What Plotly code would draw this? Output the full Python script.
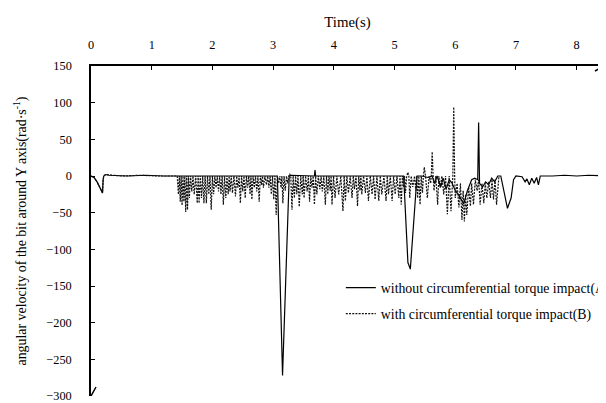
import plotly.graph_objects as go

# ---- data ----
x_ticks = [0, 1, 2, 3, 4, 5, 6, 7, 8]
y_ticks = [-300, -250, -200, -150, -100, -50, 0, 50, 100, 150]

name_A = "without circumferential torque impact(A)"
name_B = "with circumferential torque impact(B)"

A_time = [0, 0.05, 0.10, 0.15, 0.19, 0.20, 0.21, 0.24, 0.30, 0.60, 0.90, 1.20, 1.50, 2.00,
          2.50, 3.00, 3.07, 3.155, 3.265, 3.30, 3.68, 3.69, 3.70, 4.00, 4.50, 5.00, 5.15,
          5.22, 5.26, 5.37, 5.45, 5.55, 5.62, 5.66, 5.70, 5.76, 5.80, 5.85, 5.90, 5.95,
          6.00, 6.05, 6.14, 6.20, 6.27, 6.32, 6.37, 6.385, 6.40, 6.45, 6.50, 6.55, 6.60,
          6.65, 6.70, 6.75, 6.80, 6.86, 6.92, 6.96, 7.00, 7.10, 7.15, 7.18, 7.22, 7.26,
          7.30, 7.34, 7.37, 7.40, 7.60, 7.80, 8.00, 8.20, 8.45]
A_value = [0, -2, -8, -16, -23, -5, 0, 2, 1, 0, 1, 0, 0, 0,
           0, 0, 0, -272, 0, 1, 0, 8, 0, 0, 0, 0, 0,
           -118, -127, 0, 0, -2, 0, -10, 0, -15, -3, -18, -5, -10,
           -20, -25, -38, -20, -5, -3, -5, 73, -10, -15, -8, -12, -3,
           -8, 0, 0, -20, -44, -30, -5, 0, -1, -8, -4, -12, -3,
           -10, -2, -12, 0, 0, 1, 0, 1, 0]

B_time = [0, 0.05, 0.10, 0.15, 0.19, 0.20, 0.21, 0.24, 0.50, 0.80, 1.10, 1.42,
          1.44, 1.455, 1.47, 1.485, 1.50, 1.515, 1.53, 1.545, 1.56, 1.575, 1.59, 1.605,
          1.62, 1.64, 1.66, 1.68, 1.70, 1.725, 1.75, 1.765, 1.78, 1.80, 1.82, 1.84,
          1.86, 1.88, 1.90, 1.92, 1.94, 1.96, 1.98, 2.00, 2.02, 2.04, 2.06, 2.08,
          2.10, 2.12, 2.14, 2.16, 2.18, 2.20, 2.22, 2.24, 2.26, 2.275, 2.29, 2.31,
          2.33, 2.355, 2.38, 2.40, 2.42, 2.44, 2.46, 2.48, 2.50, 2.52, 2.54, 2.56,
          2.58, 2.60, 2.62, 2.635, 2.65, 2.67, 2.69, 2.71, 2.73, 2.75, 2.77, 2.79,
          2.81, 2.825, 2.84, 2.865, 2.89, 2.91, 2.93, 2.95, 2.97, 2.99, 3.01, 3.03,
          3.05, 3.07, 3.09, 3.11, 3.13, 3.145, 3.16, 3.18, 3.20, 3.22, 3.24, 3.26,
          3.27, 3.29, 3.31, 3.33, 3.35, 3.37, 3.39, 3.41, 3.43, 3.455, 3.48, 3.495,
          3.51, 3.535, 3.56, 3.58, 3.60, 3.62, 3.64, 3.66, 3.68, 3.70, 3.72, 3.745,
          3.77, 3.79, 3.81, 3.835, 3.86, 3.88, 3.90, 3.92, 3.94, 3.955, 3.97, 3.995,
          4.02, 4.05, 4.08, 4.115, 4.15, 4.17, 4.19, 4.215, 4.24, 4.27, 4.30, 4.32,
          4.34, 4.365, 4.39, 4.41, 4.43, 4.445, 4.46, 4.49, 4.52, 4.545, 4.57, 4.60,
          4.63, 4.655, 4.68, 4.71, 4.74, 4.765, 4.79, 4.825, 4.86, 4.88, 4.90, 4.93,
          4.96, 4.985, 5.01, 5.04, 5.07, 5.09, 5.11, 5.13, 5.15, 5.165, 5.18, 5.20,
          5.22, 5.235, 5.25, 5.275, 5.30, 5.33, 5.35, 5.365, 5.38, 5.40, 5.42, 5.44,
          5.46, 5.475, 5.49, 5.51, 5.54, 5.57, 5.595, 5.605, 5.62, 5.635, 5.65, 5.68,
          5.71, 5.73, 5.75, 5.78, 5.81, 5.84, 5.87, 5.90, 5.93, 5.96, 5.975, 5.99,
          6.00, 6.03, 6.06, 6.085, 6.11, 6.13, 6.15, 6.17, 6.19, 6.22, 6.25, 6.27,
          6.30, 6.33, 6.36, 6.385, 6.41, 6.44, 6.47, 6.495, 6.52, 6.55, 6.58, 6.605,
          6.63, 6.655, 6.68, 6.72]
B_value = [0, -2, -8, -16, -23, -5, 0, 2, 0, 1, 0, 0,
           -25, 0, -35, 0, -40, 0, -35, 0, -49, 0, -46, 0,
           -30, 0, -21, 0, -25, 0, -37, 0, -37, 0, -30, 0,
           -37, 0, -37, 0, -25, 0, -46, 0, -25, 0, -16, 0,
           -21, 0, -25, 0, -39, 0, -30, 0, -25, 0, -21, 0,
           -23, 0, -28, 0, -16, 0, -37, 0, -21, 0, -30, 0,
           -16, 0, -25, 0, -32, 0, -16, 0, -21, 0, -35, 0,
           -12, 0, -16, 0, -12, 0, -16, 0, -25, 0, -32, 0,
           -53, 0, -10, 0, -16, 0, -37, 0, -20, 0, -10, 0,
           3, 0, -46, 0, -30, 0, -25, 0, -42, 0, -25, 0,
           -30, 0, -21, 0, -35, 0, -16, 0, -39, 0, -25, 0,
           -18, 0, -21, 0, -39, 0, -25, 0, -20, 0, -39, 0,
           -30, 0, -25, 0, -48, 0, -34, 0, -23, 0, -30, 0,
           -18, 0, -41, 0, -20, 0, -25, 0, -23, 0, -34, 0,
           -25, 0, -32, 0, -34, 0, -25, 0, -34, 0, -25, 0,
           -34, 0, -25, 0, -30, 0, -39, 0, -15, 0, -23, 0,
           5, 0, -30, 0, -15, 0, -20, 0, -30, 0, -39, 0,
           -23, 0, 12, 0, -30, 0, -10, 0, 33, 0, -20, 0,
           -39, 0, -16, 0, -25, 0, -52, 0, -48, 0, 94, 0,
           -30, -10, -43, -10, -60, -20, -62, -25, -53, -15, -41, -10,
           -39, -5, -20, -5, -39, -10, -37, -10, -30, -8, -30, -5,
           -32, -5, -39, 0]

FONT = "Liberation Serif, Times New Roman, serif"
Y_TITLE = ("\u00a0" * 6) + "angular velocity of the bit around Y axis(rad·s<sup>-1</sup>)"

fig = go.Figure()
fig.add_trace(go.Scatter(x=A_time, y=A_value, mode="lines", name=name_A,
                         legendgroup="a",
                         line=dict(color="black", width=1.2)))
fig.add_trace(go.Scatter(x=B_time, y=B_value, mode="lines", name=name_B,
                         legendgroup="b",
                         line=dict(color="#111111", width=1.2, dash="2px,1.2px")))

# axis arrowheads (open chevrons, drawn in pixels at the axis ends)
fig.add_shape(type="path", xref="x", yref="y", xsizemode="pixel", ysizemode="pixel",
              xanchor=8.45, yanchor=150, path="M-9,-5 L0,0 L-9,5",
              line=dict(color="black", width=1.5))
fig.add_shape(type="path", xref="x", yref="y", xsizemode="pixel", ysizemode="pixel",
              xanchor=0, yanchor=-300, path="M-5,9 L0,0 L5,9",
              line=dict(color="black", width=1.5))

# the page body has an 8px margin, so the figure is laid out 8px up/left of target
fig.update_layout(
    width=606, height=403,
    margin=dict(l=83, r=10, t=58, b=15, autoexpand=False),
    paper_bgcolor="white", plot_bgcolor="white",
    font=dict(family=FONT, size=12.3, color="black"),
    showlegend=True,
    legend=dict(x=0.487, y=0.375, xanchor="left", yanchor="top",
                bgcolor="rgba(0,0,0,0)", borderwidth=0,
                traceorder="grouped", tracegroupgap=5,
                font=dict(family=FONT, size=13.8, color="black")),
    xaxis=dict(range=[0, 8.45], side="top", tickvals=x_ticks,
               showline=True, linecolor="black", linewidth=1.5,
               ticks="inside", ticklen=4, tickcolor="black", tickwidth=1,
               ticklabelstandoff=10, tickfont=dict(family=FONT, size=12.3),
               showgrid=False, zeroline=False,
               title=dict(text="Time(s)", standoff=7,
                          font=dict(family=FONT, size=14.8))),
    yaxis=dict(range=[-300, 150], tickvals=y_ticks,
               showline=True, linecolor="black", linewidth=1.5,
               ticks="inside", ticklen=4, tickcolor="black", tickwidth=1,
               ticklabelstandoff=15, tickfont=dict(family=FONT, size=12.3),
               showgrid=False, zeroline=False,
               title=dict(text=Y_TITLE, standoff=17,
                          font=dict(family=FONT, size=13.9))),
)

fig.write_html("out.html")
